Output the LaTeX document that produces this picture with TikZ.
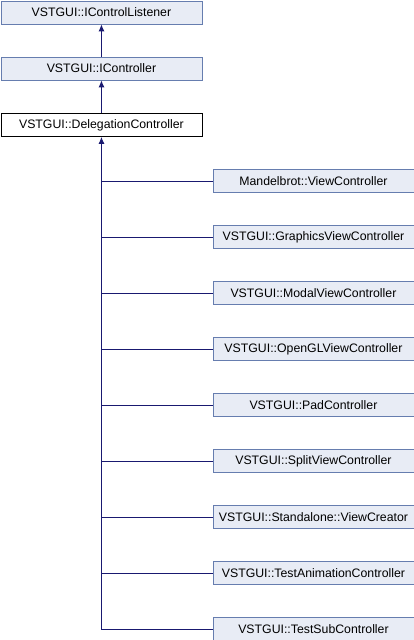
\documentclass[tikz,border=0pt]{standalone}
\usepackage{fontspec}
\setmainfont{Liberation Sans}
\usetikzlibrary{arrows.meta}
\definecolor{boxfill}{RGB}{232,236,245}
\definecolor{boxline}{RGB}{102,125,175}
\definecolor{edge}{RGB}{25,25,112}
\tikzset{
  cls/.style={draw=boxline, fill=boxfill, line width=0.9pt, minimum height=23pt, inner sep=0pt, font=\fontsize{12.3}{13}\selectfont, anchor=north west},
  cur/.style={cls, draw=black, fill=white},
  inh/.style={draw=edge, line width=0.9pt, -{Latex[length=7pt,width=6pt]}}
}
\begin{document}
\begin{tikzpicture}[x=1pt,y=-1pt]
\useasboundingbox (0,0) rectangle (414,640);
\node[cls, minimum width=201pt] (a) at (0.5,0.5) {VSTGUI::IControlListener};
\node[cls, minimum width=201pt] (b) at (0.5,56.5) {VSTGUI::IController};
\node[cur, minimum width=201pt] (c) at (0.5,113) {VSTGUI::DelegationController};
\draw[inh] (b.north) -- (a.south);
\draw[inh] (c.north) -- (b.south);
\foreach \n/\y/\t in {d1/169/Mandelbrot::ViewController,
  d2/225/VSTGUI::GraphicsViewController,
  d3/281/VSTGUI::ModalViewController,
  d4/337/VSTGUI::OpenGLViewController,
  d5/393/VSTGUI::PadController,
  d6/449/VSTGUI::SplitViewController,
  d7/505/VSTGUI::Standalone::ViewCreator,
  d8/561/VSTGUI::TestAnimationController,
  d9/617/VSTGUI::TestSubController}{
  \node[cls, minimum width=201pt] (\n) at (212.5,\y) {\t};
}
\draw[inh] (d9.west) -| (c.south);
\foreach \n in {d1,d2,d3,d4,d5,d6,d7,d8}{
  \draw[draw=edge, line width=0.9pt] (\n.west) -- (\n.west -| c.south);
}
\end{tikzpicture}
\end{document}
